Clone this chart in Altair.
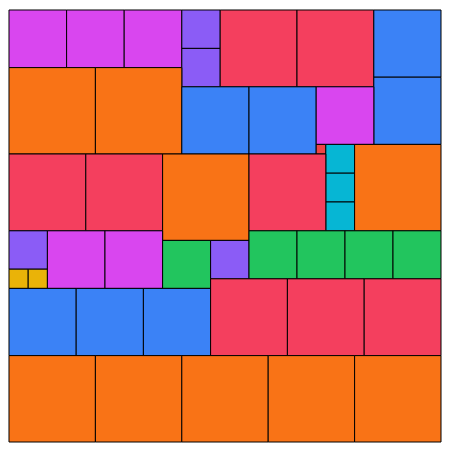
import altair as alt
import pandas as pd

# Treemap-like packing of squares: left edge, top edge, side length, group
x0 = [0, 60, 120, 180, 180, 220, 300, 380, 380,
      0, 90, 180, 250, 320, 320, 330, 330, 330, 360,
      0, 80, 160, 250,
      0, 0, 20, 40, 100, 160, 210, 250, 300, 350, 400,
      0, 70, 140, 210, 290, 370,
      0, 90, 180, 270, 360]
y0 = [0, 0, 0, 0, 40, 0, 0, 0, 70,
      60, 60, 80, 80, 80, 140, 140, 170, 200, 140,
      150, 150, 150, 150,
      230, 270, 270, 230, 230, 240, 240, 230, 230, 230, 230,
      290, 290, 290, 280, 280, 280,
      360, 360, 360, 360, 360]
side = [60, 60, 60, 40, 40, 80, 80, 70, 70,
        90, 90, 70, 70, 60, 10, 30, 30, 30, 90,
        80, 80, 90, 80,
        40, 20, 20, 60, 60, 50, 40, 50, 50, 50, 50,
        70, 70, 70, 80, 80, 80,
        90, 90, 90, 90, 90]
group = ["magenta", "magenta", "magenta", "purple", "purple", "rose", "rose", "blue", "blue",
         "orange", "orange", "blue", "blue", "magenta", "red", "cyan", "cyan", "cyan", "orange",
         "rose", "rose", "orange", "rose",
         "purple", "yellow", "yellow", "magenta", "magenta", "green", "purple", "green", "green", "green", "green",
         "blue", "blue", "blue", "rose", "rose", "rose",
         "orange", "orange", "orange", "orange", "orange"]

groups = ["magenta", "purple", "rose", "blue", "orange", "red", "cyan", "yellow", "green"]
colors = ["#d946ef", "#8b5cf6", "#f43f5e", "#3b82f6", "#f97316", "#ef4444", "#06b6d4", "#eab308", "#22c55e"]

df = pd.DataFrame({"x0": x0, "y0": y0, "side": side, "group": group})

chart = (
    alt.Chart(df)
    .transform_calculate(x1="datum.x0 + datum.side", y1="datum.y0 + datum.side")
    .mark_rect(stroke="black", strokeWidth=1)
    .encode(
        x=alt.X("x0:Q", scale=alt.Scale(domain=[0, 450], nice=False, zero=False), axis=None),
        x2="x1:Q",
        y=alt.Y("y0:Q", scale=alt.Scale(domain=[0, 450], nice=False, zero=False, reverse=True), axis=None),
        y2="y1:Q",
        color=alt.Color("group:N", scale=alt.Scale(domain=groups, range=colors), legend=None),
    )
    .properties(width=434, height=434, padding=0)
    .configure_view(stroke=None)
)

chart.save("out.html", embed_options={"renderer": "svg", "actions": False})
